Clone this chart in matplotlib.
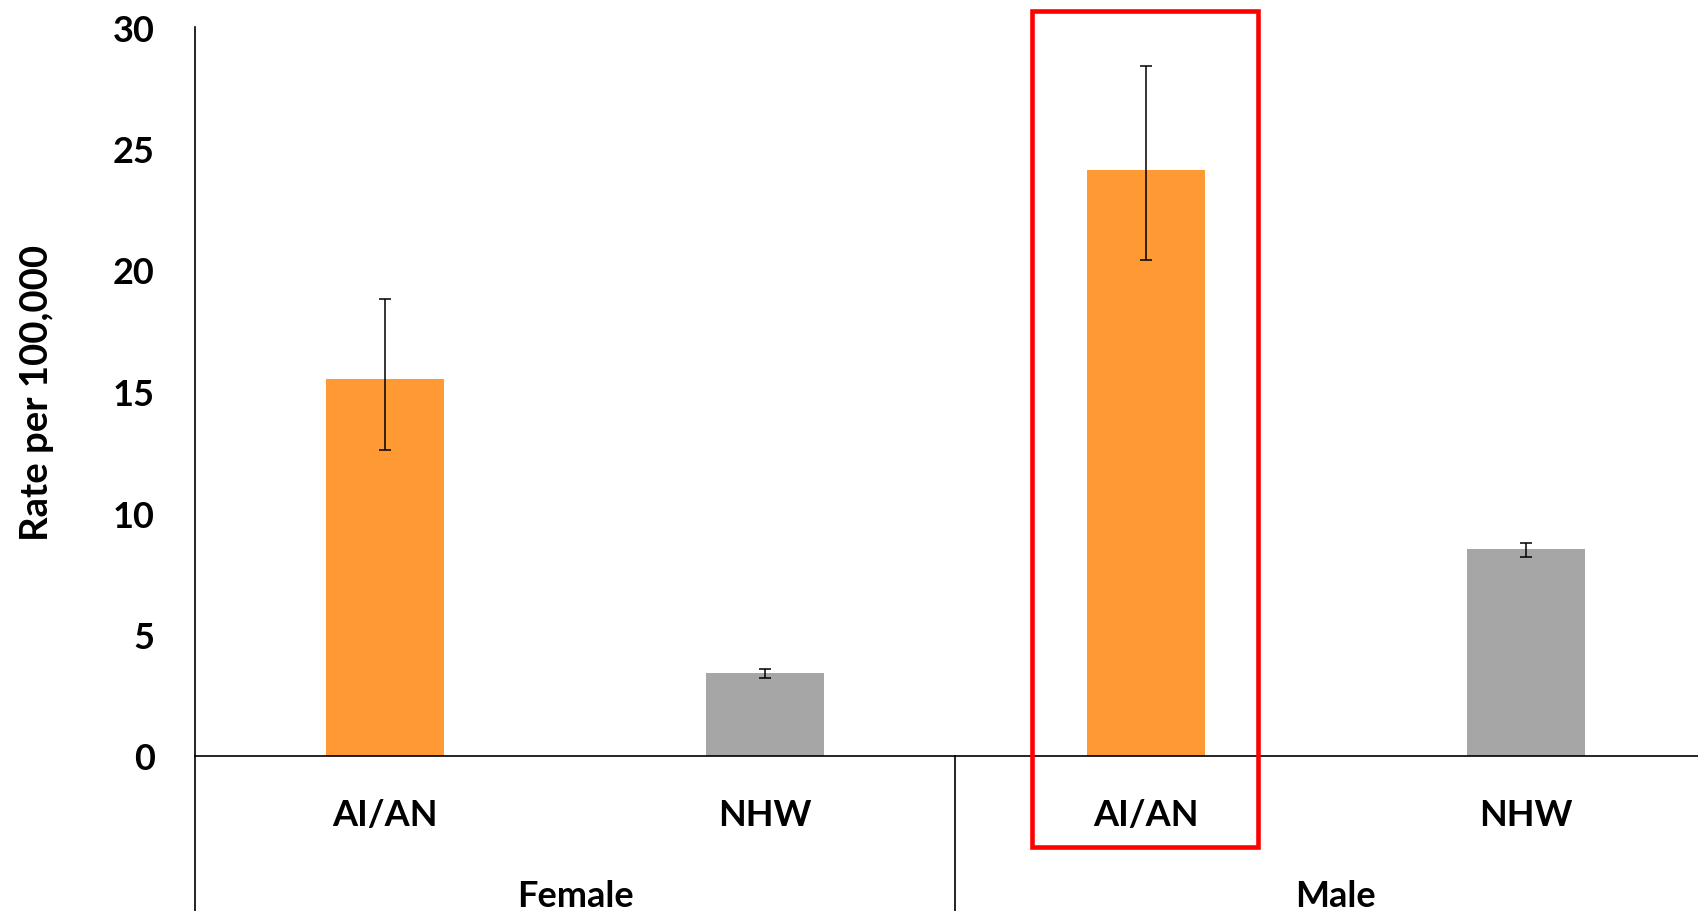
"""
Incidence rate by sex and race (AI/AN vs NHW), bar chart with error bars.
Saves out.png.
"""

import matplotlib
matplotlib.use("Agg")
import matplotlib.pyplot as plt
import matplotlib.transforms as mtransforms
from matplotlib.patches import Rectangle

# data
GROUPS = ["Female", "Male"]
RACES = ["AI/AN", "NHW", "AI/AN", "NHW"]
RATES = [15.5, 3.4, 24.1, 8.5]
CI_LOW = [12.6, 3.2, 20.4, 8.2]
CI_HIGH = [18.8, 3.6, 28.4, 8.75]
BAR_COLORS = ["#FF9933", "#A6A6A6", "#FF9933", "#A6A6A6"]
Y_TICKS = [0, 5, 10, 15, 20, 25, 30]
HIGHLIGHT = 2  # index of the boxed bar

FONT = "Lato"


def main():
    fig = plt.figure(figsize=(16.99, 9.12), dpi=100)
    # right edge runs past the figure, as in the reference crop
    ax = fig.add_axes([195 / 1699, 155 / 912, 1521 / 1699, 729 / 912])

    x = list(range(len(RATES)))
    yerr = [[r - lo for r, lo in zip(RATES, CI_LOW)],
            [hi - r for r, hi in zip(RATES, CI_HIGH)]]
    ax.bar(x, RATES, width=0.31, color=BAR_COLORS, zorder=2)
    ax.errorbar(x, RATES, yerr=yerr, fmt="none", ecolor="black",
                elinewidth=1.1, capsize=4.5, capthick=1.1, zorder=3)

    ax.set_xlim(-0.5, len(RATES) - 0.5)
    ax.set_ylim(0, 30)
    ax.set_yticks(Y_TICKS)
    ax.set_yticklabels([str(t) for t in Y_TICKS], fontsize=26,
                       fontweight="bold", family=FONT)
    ax.tick_params(axis="y", length=0, pad=29)
    ax.set_xticks([])

    for side in ["top", "right"]:
        ax.spines[side].set_visible(False)
    ax.spines["left"].set_linewidth(1.2)
    ax.spines["bottom"].set_linewidth(1.2)

    ax.set_ylabel("Rate per 100,000", fontsize=27.5, fontweight="bold",
                  family=FONT, labelpad=42)

    trans = mtransforms.blended_transform_factory(ax.transData, ax.transAxes)
    for i, race in enumerate(RACES):
        ax.text(i, -0.095, race, transform=trans, ha="center", va="baseline",
                fontsize=26, fontweight="bold", family=FONT)
    for g, name in enumerate(GROUPS):
        ax.text(2 * g + 0.5, -0.206, name, transform=trans, ha="center",
                va="baseline", fontsize=26, fontweight="bold", family=FONT)

    # category axis divider lines below the plot
    for xb in [-0.5, 1.5]:
        ax.plot([xb, xb], [0, -0.3], transform=trans, color="black",
                lw=1.2, clip_on=False)

    # red highlight box around the male AI/AN bar
    box = Rectangle((HIGHLIGHT - 0.30, -3.74), 0.595, 34.4, fill=False,
                    edgecolor="#FF0000", lw=3.3, clip_on=False, zorder=4)
    ax.add_patch(box)

    fig.savefig("out.png", dpi=100)
    plt.close(fig)


if __name__ == "__main__":
    main()
